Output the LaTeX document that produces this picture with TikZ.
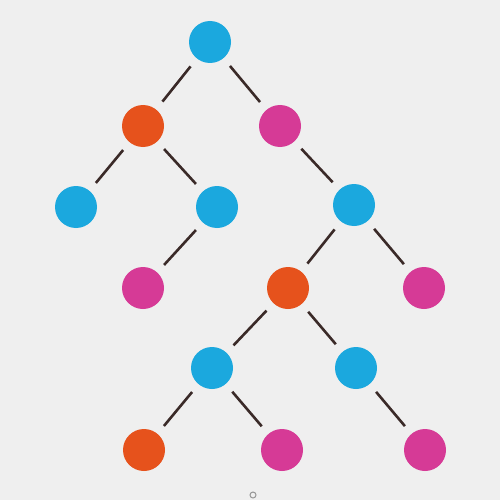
\documentclass[tikz,border=0pt]{standalone}
\definecolor{cbl}{RGB}{27,168,222}
\definecolor{cog}{RGB}{230,82,28}
\definecolor{cmg}{RGB}{214,58,150}
\definecolor{cln}{RGB}{58,42,40}
\definecolor{cbg}{RGB}{239,239,239}
\definecolor{cdot}{RGB}{150,150,150}
\begin{document}
\begin{tikzpicture}[x=1pt,y=-1pt,
  nd/.style={circle,inner sep=0pt,minimum size=42pt},
  bl/.style={nd,fill=cbl},
  og/.style={nd,fill=cog},
  mg/.style={nd,fill=cmg},
  edge/.style={draw=cln,line width=2.6pt,shorten >=10pt,shorten <=10pt}]
\fill[cbg] (0,0) rectangle (500,500);
\useasboundingbox (0,0) rectangle (500,500);
\node[bl] (r) at (210,42) {};
\node[og] (a) at (143,126) {};
\node[mg] (b) at (280,126) {};
\node[bl] (c) at (76,207) {};
\node[bl] (d) at (217,207) {};
\node[bl] (e) at (354,205) {};
\node[mg] (f) at (143,288) {};
\node[og] (g) at (288,288) {};
\node[mg] (h) at (424,288) {};
\node[bl] (i) at (212,368) {};
\node[bl] (j) at (356,368) {};
\node[og] (k) at (144,450) {};
\node[mg] (l) at (282,450) {};
\node[mg] (m) at (425,450) {};
\node[circle,draw=cdot,line width=1pt,inner sep=0pt,minimum size=6pt] (dot) at (253,495) {};
\path[edge] (r) -- (a);
\path[edge] (r) -- (b);
\path[edge] (a) -- (c);
\path[edge] (a) -- (d);
\path[edge] (b) -- (e);
\path[edge] (d) -- (f);
\path[edge] (e) -- (g);
\path[edge] (e) -- (h);
\path[edge] (g) -- (i);
\path[edge] (g) -- (j);
\path[edge] (i) -- (k);
\path[edge] (i) -- (l);
\path[edge] (j) -- (m);
\end{tikzpicture}
\end{document}
